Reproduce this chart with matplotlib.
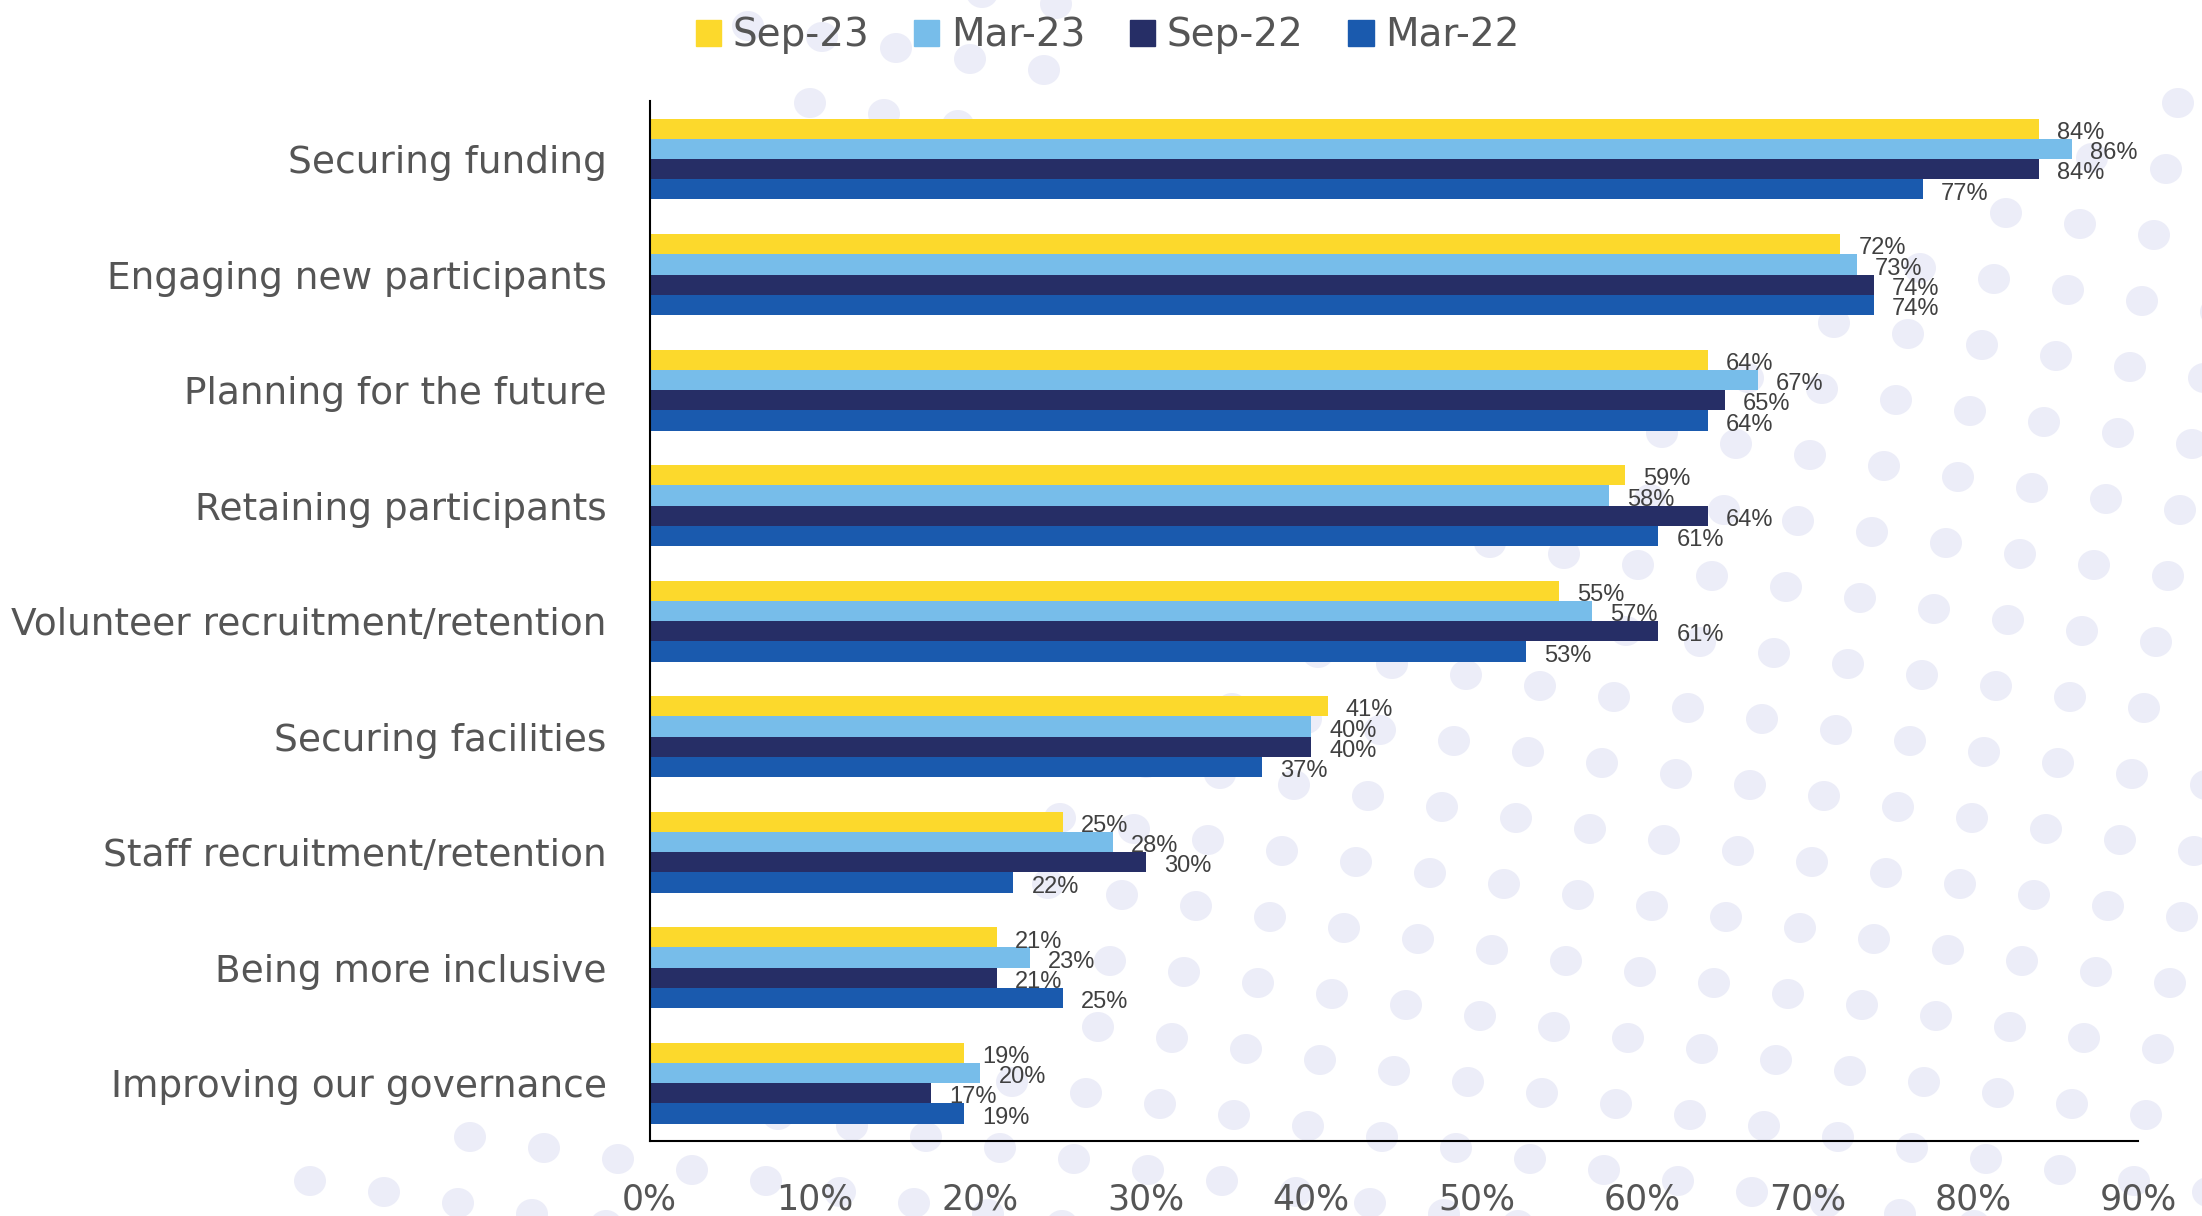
import numpy as np
import matplotlib
matplotlib.use("Agg")
import matplotlib.pyplot as plt
from matplotlib.patches import Patch, Ellipse

categories = ["Securing funding", "Engaging new participants", "Planning for the future",
              "Retaining participants", "Volunteer recruitment/retention", "Securing facilities",
              "Staff recruitment/retention", "Being more inclusive", "Improving our governance"]
series = ["Sep-23", "Mar-23", "Sep-22", "Mar-22"]
sep23 = [84, 72, 64, 59, 55, 41, 25, 21, 19]
mar23 = [86, 73, 67, 58, 57, 40, 28, 23, 20]
sep22 = [84, 74, 65, 64, 61, 40, 30, 21, 17]
mar22 = [77, 74, 64, 61, 53, 37, 22, 25, 19]
xticks = [0, 10, 20, 30, 40, 50, 60, 70, 80, 90]

colors = ["#FCD92C", "#77BDEA", "#262E66", "#1A5AAE"]
txt = "#555555"
font = ["DejaVu Sans"]
lab_font = ["Liberation Sans Narrow", "Liberation Sans", "DejaVu Sans"]

W, H = 2202, 1216
fig = plt.figure(figsize=(W / 100, H / 100), dpi=100)

# decorative dotted background, pixel space (not data)
bg = fig.add_axes([0, 0, 1, 1], zorder=-5)
bg.set_xlim(0, W)
bg.set_ylim(H, 0)
bg.axis("off")
edge_y = [90, 210, 345, 460, 560, 660, 800, 1000, 1100, 1130, 1216]
edge_x = [2150, 1930, 1775, 1600, 1420, 1300, 1000, 1050, 1000, 320, 300]
for i in range(-20, 40):
    for j in range(-5, 25):
        px = 20 + i * 74 - j * 12
        py = -150 + i * 11 + j * 66
        if px < -20 or px > W + 20 or py < -20 or py > H + 20:
            continue
        inside = px > np.interp(py, edge_y, edge_x) and py > 60
        top_band = py < 150 and 740 < px < 1110
        if inside or top_band:
            bg.add_patch(Ellipse((px, py), 32, 30, color="#ECEDF8", lw=0))

ax = fig.add_axes([0.295, 0.0617, 0.676, 0.855])

y = np.arange(len(categories))
h = 0.175
for k, vals in enumerate([sep23, mar23, sep22, mar22]):
    pos = y + (k - 1.5) * h
    ax.barh(pos, vals, height=h, color=colors[k], label=series[k])
    for p, v in zip(pos, vals):
        ax.annotate(f"{v}%", (v, p), xytext=(13, -3), textcoords="offset points",
                    va="center", ha="left", fontsize=17, color="#404040", family=lab_font)

ax.set_ylim(len(categories) - 0.5, -0.5)
ax.set_xlim(0, 90)
ax.set_yticks(y)
ax.set_yticklabels(categories, fontsize=27, color=txt, family=font)
ax.set_xticks(xticks)
ax.set_xticklabels([f"{t}%" for t in xticks], fontsize=25, color=txt, family=font)
ax.tick_params(axis="both", length=0)
ax.tick_params(axis="y", pad=31)
ax.tick_params(axis="x", pad=30)
for s in ["top", "right"]:
    ax.spines[s].set_visible(False)
ax.spines["left"].set_linewidth(1.5)
ax.spines["bottom"].set_linewidth(1.5)
ax.set_facecolor("none")

handles = [Patch(color=c) for c in colors]
fig.legend(handles, series, loc="center", bbox_to_anchor=(0.503, 0.971), ncol=4,
           frameon=False, handlelength=0.65, handleheight=0.65, handletextpad=0.3,
           columnspacing=1.15, prop={"family": font, "size": 28}, labelcolor=txt)

fig.savefig("out.png", dpi=100, facecolor="white")
